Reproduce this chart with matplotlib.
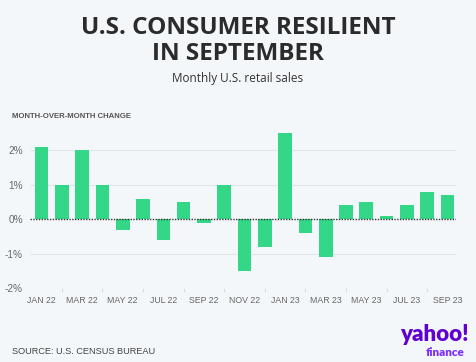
import matplotlib
matplotlib.use('Agg')
import matplotlib.pyplot as plt
import numpy as np

months = ['JAN 22', 'FEB 22', 'MAR 22', 'APR 22', 'MAY 22', 'JUN 22', 'JUL 22',
          'AUG 22', 'SEP 22', 'OCT 22', 'NOV 22', 'DEC 22', 'JAN 23', 'FEB 23',
          'MAR 23', 'APR 23', 'MAY 23', 'JUN 23', 'JUL 23', 'AUG 23', 'SEP 23']
change = [2.1, 1.0, 2.0, 1.0, -0.3, 0.6, -0.6, 0.5, -0.1, 1.0, -1.5,
          -0.8, 2.5, -0.4, -1.1, 0.4, 0.5, 0.1, 0.4, 0.8, 0.7]
yticks = [-2, -1, 0, 1, 2]
ytick_labels = ['-2%', '-1%', '0%', '1%', '2%']

BG = '#f4f7fa'
GREEN = '#34d687'
NARROW = ['Liberation Sans', 'DejaVu Sans']

fig = plt.figure(figsize=(4.76, 3.62), dpi=100)
fig.patch.set_facecolor(BG)
ax = fig.add_axes([0.063, 0.2044, 0.895, 0.437])
ax.set_facecolor(BG)

x = np.arange(len(months))
ax.bar(x, change, width=0.67, color=GREEN, zorder=2)
ax.axhline(0, color='#333333', lw=1.0, ls=(0, (1, 1)), zorder=3)

ax.set_xlim(-0.57, len(months) - 0.58)
ax.set_ylim(-2, 2.6)
ax.set_yticks(yticks)
ax.set_yticklabels(ytick_labels, family=NARROW, fontsize=7.2, color='#666666')
for v in yticks:
    if v != 0:
        ax.axhline(v, color='#e2e5e9', lw=0.8, zorder=1)

ax.set_xticks(x[::2])
ax.set_xticklabels(months[::2], family=NARROW, fontsize=6.3, color='#666666')
ax.set_xticks(x[1::2], minor=True)
ax.tick_params(axis='x', which='major', length=0, pad=6)
ax.tick_params(axis='x', which='minor', length=3, color='#dcdfe3', width=0.8)
ax.tick_params(axis='y', length=0, pad=5)
for s in ax.spines.values():
    s.set_visible(False)

fig.text(0.5, 0.922, 'U.S. CONSUMER RESILIENT', ha='center', va='center',
         fontsize=17.5, fontweight='bold', family='Open Sans', color='#2b2b2b')
fig.text(0.5, 0.851, 'IN SEPTEMBER', ha='center', va='center',
         fontsize=17.5, fontweight='bold', family='Open Sans', color='#2b2b2b')
fig.text(0.5, 0.784, 'Monthly U.S. retail sales', ha='center', va='center',
         fontsize=8.5, family='Open Sans', color='#333333')
fig.text(0.025, 0.677, 'MONTH-OVER-MONTH CHANGE', ha='left', va='center',
         fontsize=5.6, fontweight='bold', family=NARROW, color='#555555')
fig.text(0.025, 0.028, 'SOURCE: U.S. CENSUS BUREAU', ha='left', va='center',
         fontsize=6.6, family=NARROW, color='#444444')

fig.text(0.985, 0.075, 'yahoo!', ha='right', va='center', fontsize=16,
         fontweight='heavy', family='Lato', color='#6001d2')
fig.text(0.975, 0.025, 'finance', ha='right', va='center', fontsize=8.5,
         fontweight='heavy', family='Lato', color='#7d2eff')

fig.savefig('out.png', dpi=100, facecolor=BG)
